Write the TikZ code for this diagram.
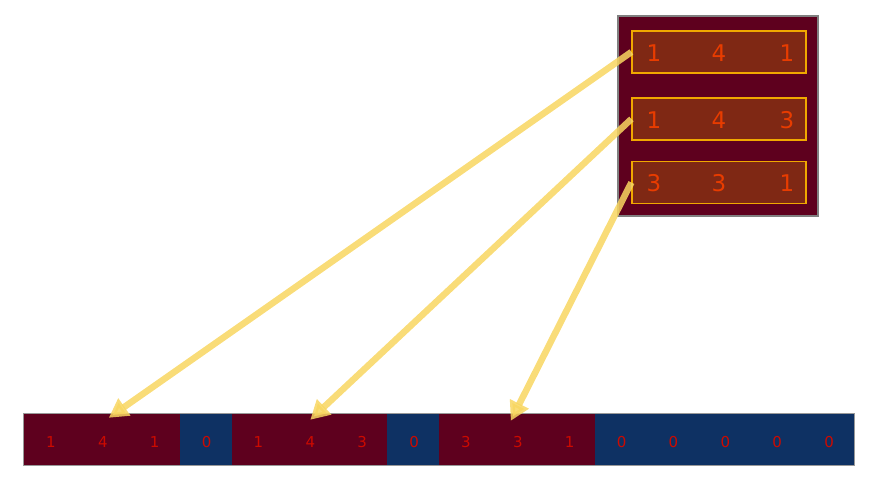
\documentclass[tikz,border=0pt]{standalone}
\usepackage{fontspec}
\setmainfont{DejaVu Sans}
\usetikzlibrary{arrows.meta, positioning}
\definecolor{darkwine}{HTML}{5E001E}
\definecolor{rowbrown}{HTML}{7F2814}
\definecolor{rowgold}{HTML}{F0A800}
\definecolor{rowdigit}{HTML}{E83C00}
\definecolor{celldigit}{HTML}{CC0A00}
\definecolor{padblue}{HTML}{0E3163}
\definecolor{arrowyellow}{HTML}{F8D660}
\tikzset{
    rowbox/.style={draw=rowgold, line width=1.2pt, fill=rowbrown, minimum width=174pt, minimum height=42pt, inner sep=0pt},
    rowdig/.style={text=rowdigit, font=\fontsize{23}{23}\selectfont, inner sep=0pt},
    cell/.style={minimum width=51.875pt, minimum height=51pt, inner sep=0pt},
    celldig/.style={text=celldigit, font=\fontsize{15}{15}\selectfont, inner sep=0pt},
    copyarrow/.style={draw=arrowyellow, draw opacity=0.85, fill opacity=0.85, line width=6.5pt, -{Triangle[length=19pt,width=20pt]}}
}
\begin{document}
\begin{tikzpicture}[x=1pt, y=-1pt]
        \useasboundingbox (0,0) rectangle (871,479);

        % Matrix block
        \node[draw=gray, line width=1.2pt, fill=darkwine, minimum width=200pt, minimum height=200pt, inner sep=0pt] (block) at (718,116) {};
        \node[rowbox] (r1) at (719,52) {};
        \node[rowbox] (r2) at (719,119) {};
        \node[rowbox] (r3) at (719,182.5) {};

        % Row entries
        \foreach \r/\a/\b/\c in {r1/1/4/1, r2/1/4/3, r3/3/3/1} {
            \node[rowdig] at ([xshift=-65pt,yshift=-1pt]\r.center) {\a};
            \node[rowdig] at ([yshift=-1pt]\r.center) {\b};
            \node[rowdig] at ([xshift=68pt,yshift=-1pt]\r.center) {\c};
        }

        % Flat padded array
        \foreach \v/\col [count=\i from 0] in {1/darkwine, 4/darkwine, 1/darkwine, 0/padblue,
                1/darkwine, 4/darkwine, 3/darkwine, 0/padblue,
                3/darkwine, 3/darkwine, 1/darkwine, 0/padblue,
                0/padblue, 0/padblue, 0/padblue, 0/padblue} {
            \node[cell, fill=\col] (c\i) at ({24+51.875*(\i+0.5)},439.5) {};
            \node[celldig] at ([xshift=1pt,yshift=-3pt]c\i.center) {\v};
        }
        \draw[gray!80, line width=0.8pt] (c0.north west) rectangle (c15.south east);

        % Copy arrows
        \draw[copyarrow] (r1.west) -- ([xshift=7pt,yshift=-4pt]c1.north);
        \draw[copyarrow] (r2.west) -- ([xshift=1pt,yshift=-6pt]c5.north);
        \draw[copyarrow] (r3.west) -- ([xshift=-6pt,yshift=-7pt]c9.north);
\end{tikzpicture}
\end{document}
